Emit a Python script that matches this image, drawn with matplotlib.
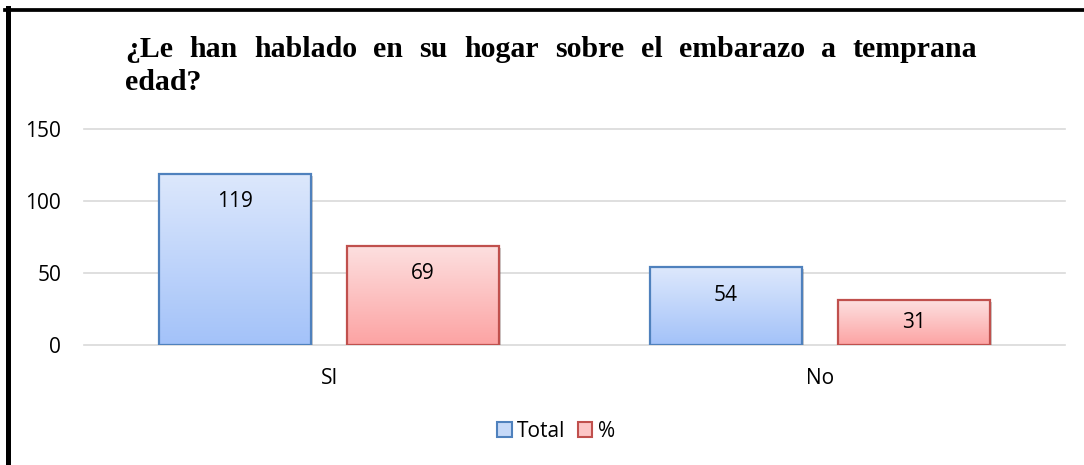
import matplotlib
matplotlib.use("Agg")
import matplotlib.pyplot as plt
import numpy as np
from matplotlib.colors import LinearSegmentedColormap
from matplotlib.patches import Rectangle
from matplotlib.lines import Line2D
import matplotlib.patheffects as pe

categories = ["SI", "No"]
total = [119, 54]
pct = [69, 31]
series_names = ["Total", "%"]
yticks = [0, 50, 100, 150]
title_line1 = "¿Le han hablado en su hogar sobre el embarazo a temprana"
title_line2 = "edad?"

W, H = 1084, 465
fig = plt.figure(figsize=(W / 100, H / 100), dpi=100)
fig.patch.set_facecolor("white")

ax_l, ax_r, ax_t, ax_b = 84, 1065, 129, 345
ax = fig.add_axes([ax_l / W, 1 - ax_b / H, (ax_r - ax_l) / W, (ax_b - ax_t) / H])
ax.set_xlim(-0.5, 1.5)
ax.set_ylim(0, 150)
px_per_unit = (ax_b - ax_t) / 150.0

font_lbl = "Open Sans"
blue_cmap = LinearSegmentedColormap.from_list("b", ["#A3C2F9", "#DDE8FC"])
red_cmap = LinearSegmentedColormap.from_list("r", ["#FCA3A3", "#FDE0E0"])
grad = np.linspace(0, 1, 256).reshape(-1, 1)

w = 0.31
off = 0.1916
x = np.arange(len(categories))
for vals, cmap, edge, sign in [(total, blue_cmap, "#4F81BD", -1), (pct, red_cmap, "#C0504D", 1)]:
    for xi, v in zip(x, vals):
        x0 = xi + sign * off - w / 2
        shadow = Rectangle((x0, 0), w, v, facecolor="#BBBBBB", edgecolor="none", zorder=2,
                           path_effects=[pe.SimplePatchShadow(offset=(1.5, -1.5), alpha=0.25)])
        ax.add_patch(shadow)
        ax.imshow(grad, cmap=cmap, origin="lower", extent=(x0, x0 + w, 0, v),
                  aspect="auto", zorder=3, vmin=0, vmax=1)
        rect = Rectangle((x0, 0), w, v, facecolor="none", edgecolor=edge, lw=1.6, zorder=4)
        ax.add_patch(rect)
        ly = max(v - 28 / px_per_unit, v / 2)
        ax.text(xi + sign * off, ly, str(v), ha="center", va="center",
                fontsize=15, family=font_lbl, color="black", zorder=5)

ax.set_xlim(-0.5, 1.5)
ax.set_ylim(0, 150)
ax.set_yticks(yticks)
ax.set_yticklabels([str(t) for t in yticks], family=font_lbl, fontsize=15)
ax.set_xticks(x)
ax.set_xticklabels(categories, family=font_lbl, fontsize=15)
ax.tick_params(length=0)
ax.tick_params(axis="y", pad=16.5)
ax.tick_params(axis="x", pad=16.5)
for s in ax.spines.values():
    s.set_visible(False)
for t in yticks:
    ax.axhline(t, color="#D9D9D9", lw=1.2, zorder=1, clip_on=False)

# legend
handles = [Rectangle((0, 0), 1, 1, facecolor="#C6D9F8", edgecolor="#4F81BD", lw=1.5),
           Rectangle((0, 0), 1, 1, facecolor="#FCC6C6", edgecolor="#C0504D", lw=1.5)]
fig.legend(handles, series_names, loc="center", bbox_to_anchor=(556 / W, 1 - 431 / H),
           ncol=2, frameon=False, prop={"family": font_lbl, "size": 15},
           handlelength=0.7, handleheight=0.7, handletextpad=0.25, columnspacing=0.6)

# frame lines (left and top)
fig.add_artist(Line2D([7.5 / W, 7.5 / W], [0, 1 - 8 / H], color="black", lw=3.6, transform=fig.transFigure))
fig.add_artist(Line2D([5 / W, 1], [1 - 10 / H, 1 - 10 / H], color="black", lw=2.7, transform=fig.transFigure))

# justified title
tfont = dict(family="Liberation Serif", weight="bold", fontsize=21.5)
words = title_line1.split(" ")
renderer = fig.canvas.get_renderer()
left, right = 125, 977
base1 = H - 57
texts = []
widths = []
for wd in words:
    t = fig.text(0, 0, wd, **tfont)
    bb = t.get_window_extent(renderer)
    widths.append(bb.width)
    texts.append(t)
gap = (right - left - sum(widths)) / (len(words) - 1)
cx = left
for t, wdt in zip(texts, widths):
    t.set_position((cx / W, base1 / H))
    t.set_va("baseline")
    cx += wdt + gap
fig.text(left / W, (H - 90) / H, title_line2, va="baseline", **tfont)

fig.savefig("out.png", dpi=100)
